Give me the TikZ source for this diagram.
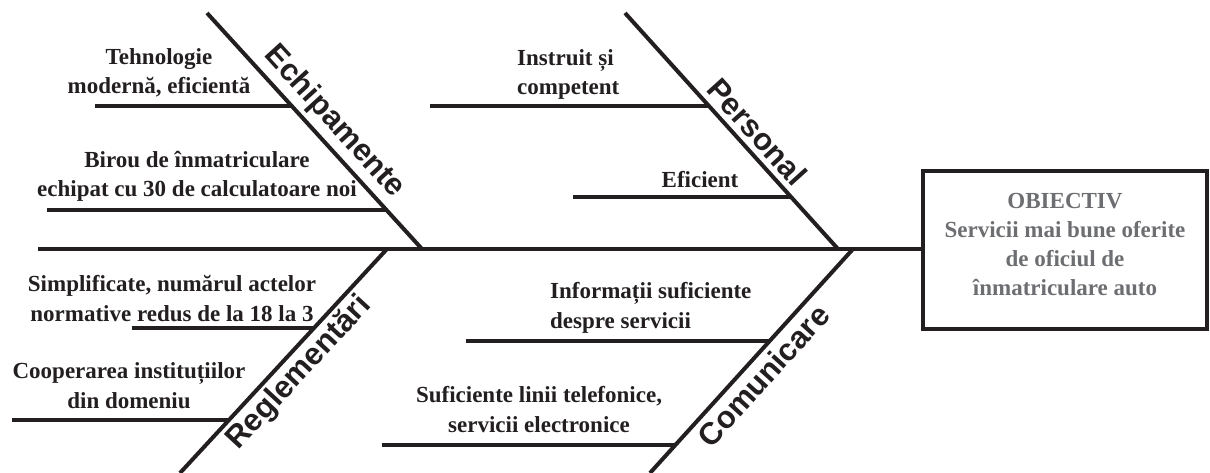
\documentclass[tikz,border=0pt]{standalone}
\usepackage{fontspec}
\setmainfont{Liberation Serif}
\newfontfamily\bonefont{Liberation Sans}
\usetikzlibrary{calc}
\definecolor{ink}{HTML}{231F20}
\definecolor{goaltext}{HTML}{6D6E71}
\begin{document}
\begin{tikzpicture}[x=1pt,y=-1pt,
  bone/.style={draw=ink, line width=4pt},
  spine/.style={draw=ink, line width=4.5pt},
  cause/.style={font=\fontsize{23}{29.5}\selectfont\bfseries, text=ink,
    align=center, inner sep=0pt, anchor=base},
  causeleft/.style={cause, align=left, anchor=base west},
  category/.style={font=\bonefont\bfseries\fontsize{31}{33}\selectfont,
    text=ink, inner sep=2pt, sloped},
  goal/.style={draw=ink, line width=4pt, minimum width=284pt,
    minimum height=158pt, align=center, text=goaltext, inner sep=0pt,
    font=\fontsize{23}{29}\selectfont\bfseries}
]
\useasboundingbox (0,0) rectangle (1210,473);

% effect box and spine
\node[goal] (goal) at (1065,250)
  {OBIECTIV\\Servicii mai bune oferite\\de oficiul de\\înmatriculare auto\rule[-12pt]{0pt}{0pt}};
\coordinate (tail) at (38,249);
\draw[spine] (tail) -- (tail -| goal.west);

% main bones
\coordinate (e1) at (207,13);  \coordinate (e2) at (422,249);
\coordinate (p1) at (625,13);  \coordinate (p2) at (838,249);
\coordinate (r1) at (387,249); \coordinate (r2) at (180,473);
\coordinate (c1) at (853,249); \coordinate (c2) at (650,473);
\draw[bone] (e1) -- (e2);
\draw[bone] (p1) -- (p2);
\draw[bone] (r1) -- (r2);
\draw[bone] (c1) -- (c2);

% bone labels
\path (e1) -- (e2) node[category, pos=0.52, above=4pt] (lblE) {Echipamente};
\path (p1) -- (p2) node[category, pos=0.556, above=5pt] (lblP) {Personal};
\path (r2) -- (r1) node[category, pos=0.506, below=3pt] (lblR) {Reglementări};
\path (c2) -- (c1) node[category, pos=0.49, below=5pt] (lblC) {Comunicare};

% sub-bones
\coordinate (e1a) at ($(e1)!0.394!(e2)$); \coordinate (e1b) at (95,106);
\coordinate (e2a) at ($(e1)!0.835!(e2)$); \coordinate (e2b) at (47,210);
\coordinate (p1a) at ($(p1)!0.394!(p2)$); \coordinate (p1b) at (430,106);
\coordinate (p2a) at ($(p1)!0.780!(p2)$); \coordinate (p2b) at (573,197);
\coordinate (r1a) at ($(r1)!0.354!(r2)$); \coordinate (r1b) at (132,328);
\coordinate (r2a) at ($(r1)!0.767!(r2)$); \coordinate (r2b) at (12,420);
\coordinate (c1a) at ($(c1)!0.413!(c2)$); \coordinate (c1b) at (466,341);
\coordinate (c2a) at ($(c1)!0.879!(c2)$); \coordinate (c2b) at (382,445);
\foreach \s in {e1,e2,p1,p2,r1,r2,c1,c2}
  \draw[bone] (\s b) -- (\s a |- \s b);

% cause texts
\node[cause] (t1) at (159,94) {Tehnologie\\modernă, eficientă};
\node[cause] (t2) at (197,197) {Birou de înmatriculare\\echipat cu 30 de calculatoare noi};
\node[causeleft] (t3) at (517,95) {Instruit și\\competent};
\node[cause] (t4) at (700,188) {Eficient};
\node[cause] (t5) at (172,321) {Simplificate, numărul actelor\\normative redus de la 18 la 3};
\node[cause] (t6) at (129,408) {Cooperarea instituțiilor\\din domeniu};
\node[causeleft] (t7) at (550,328) {Informații suficiente\\despre servicii};
\node[cause] (t8) at (539,432) {Suficiente linii telefonice,\\servicii electronice};
\end{tikzpicture}
\end{document}
